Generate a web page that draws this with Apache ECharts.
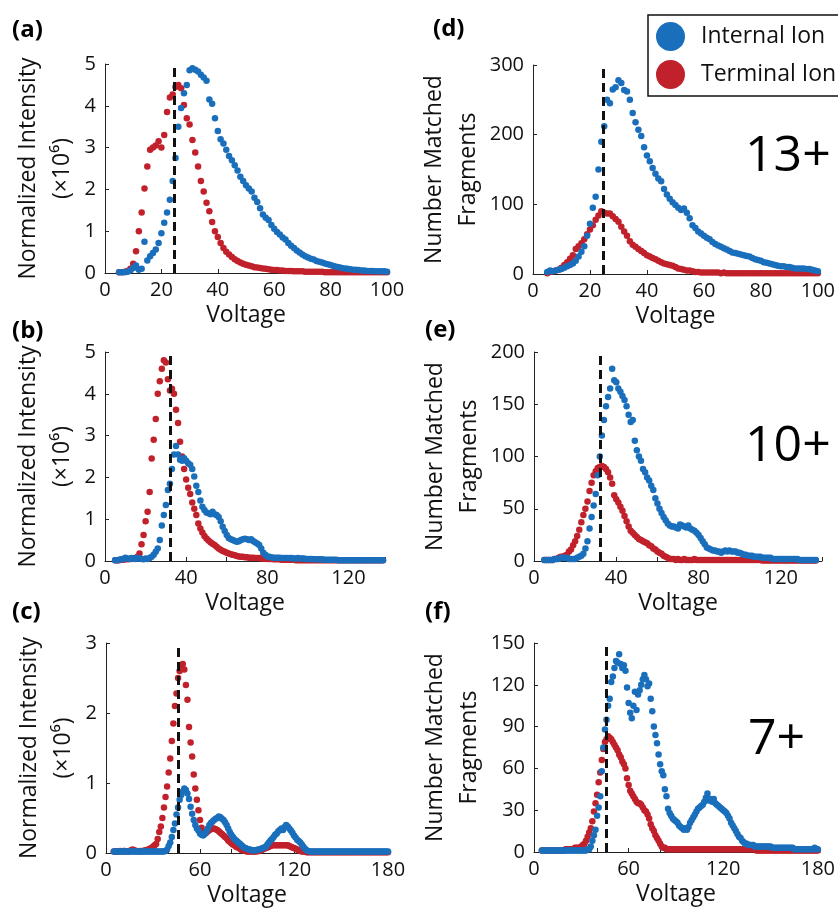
<!DOCTYPE html>
<html><head><meta charset="utf-8">
<script src="https://cdn.jsdelivr.net/npm/echarts@6/dist/echarts.min.js"></script>
<style>html,body{margin:0;padding:0;background:#fff}#chart{width:838px;height:912px}</style>
</head><body><div id="chart"></div>
<script>
// ---------- DATA (voltage grid: first voltage and step, 1 V) ----------
const voltStartA = 5, voltStartB = 5, voltStartC = 5, voltStep = 1;

// (a) Normalized intensity (x10^6), 13+, V = 5..100
const terminalA = [
0.02,0.02,0.03,0.05,0.10,0.22,0.52,1.00,1.45,2.02,
2.55,2.95,3.00,3.05,3.15,3.00,3.30,3.85,4.20,4.27,
4.45,4.50,4.42,4.02,3.70,3.55,3.18,2.88,2.55,2.20,
1.95,1.68,1.48,1.22,1.00,0.86,0.72,0.60,0.51,0.44,
0.38,0.33,0.29,0.25,0.22,0.20,0.18,0.16,0.14,0.13,
0.12,0.11,0.10,0.09,0.08,0.07,0.07,0.06,0.06,0.05,
0.05,0.05,0.04,0.04,0.04,0.04,0.03,0.03,0.03,0.03,
0.03,0.03,0.03,0.02,0.02,0.02,0.02,0.02,0.02,0.02,
0.02,0.02,0.02,0.02,0.02,0.02,0.02,0.02,0.02,0.02,
0.02,0.02,0.02,0.02,0.02,0.02];
const internalA = [
0.02,0.02,0.02,0.03,0.06,0.12,0.18,0.08,0.10,0.75,
0.30,0.40,0.48,0.56,0.72,0.95,1.20,1.45,1.75,2.20,
2.75,3.50,3.95,4.30,4.50,4.85,4.90,4.86,4.82,4.74,
4.68,4.60,4.15,4.05,3.70,3.40,3.20,3.10,2.95,2.80,
2.70,2.58,2.45,2.30,2.20,2.10,2.02,1.95,1.80,1.70,
1.55,1.40,1.32,1.27,1.15,1.06,0.98,0.92,0.85,0.80,
0.72,0.65,0.60,0.54,0.49,0.44,0.40,0.37,0.34,0.32,
0.29,0.27,0.25,0.23,0.21,0.19,0.17,0.15,0.14,0.12,
0.11,0.10,0.09,0.08,0.08,0.07,0.06,0.06,0.05,0.05,
0.05,0.04,0.04,0.04,0.04,0.03];

// (d) Number matched fragments, 13+, V = 5..100
const terminalD = [
1,3,4,5,6,9,13,17,22,27,
36,40,44,50,57,64,70,78,84,90,
88,87,87,83,79,75,68,61,55,47,
42,39,36,33,30,27,25,23,21,19,
17,15,14,13,12,10,8,7,6,5,
5,4,3,3,2,2,2,2,2,2,
2,1,2,1,1,1,1,1,1,1,
1,1,1,1,1,1,1,1,1,1,
1,1,1,1,1,1,1,1,1,1,
1,1,1,1,1,1];
const internalD = [
3,5,4,5,6,7,9,11,13,15,
19,25,32,40,55,72,95,111,150,190,
212,250,245,265,268,278,274,264,262,250,
231,218,207,198,182,170,162,152,144,137,
133,122,114,108,103,99,95,92,94,88,
80,70,66,61,58,55,52,50,46,43,
41,39,37,35,33,31,30,29,28,27,
26,25,23,21,20,19,17,16,15,14,
13,12,11,11,10,10,9,8,8,8,
8,7,7,6,5,4];

// (b) Normalized intensity (x10^6), 10+, V = 5..137
const terminalB = [
0.02,0.02,0.02,0.03,0.03,0.04,0.04,0.05,0.05,0.06,
0.07,0.10,0.18,0.40,0.62,0.95,1.18,1.65,2.45,2.90,
3.40,4.00,4.30,4.60,4.80,4.75,4.35,4.08,4.12,4.00,
3.62,3.30,2.85,2.50,2.20,1.95,1.75,1.60,1.40,1.25,
1.10,0.90,0.78,0.68,0.60,0.54,0.49,0.45,0.41,0.38,
0.34,0.30,0.27,0.24,0.22,0.20,0.18,0.16,0.15,0.14,
0.12,0.11,0.10,0.10,0.09,0.09,0.08,0.08,0.08,0.07,
0.07,0.07,0.06,0.06,0.06,0.05,0.05,0.05,0.04,0.04,
0.04,0.04,0.03,0.03,0.03,0.03,0.03,0.03,0.03,0.02,
0.02,0.02,0.02,0.02,0.02,0.02,0.02,0.02,0.02,0.02,
0.02,0.02,0.02,0.02,0.02,0.02,0.02,0.02,0.02,0.02,
0.02,0.02,0.02,0.02,0.02,0.02,0.02,0.02,0.02,0.02,
0.02,0.02,0.02,0.02,0.02,0.02,0.02,0.02,0.02,0.02,
0.02,0.02,0.02];
const internalB = [
0.02,0.02,0.03,0.04,0.05,0.08,0.06,0.05,0.07,0.06,
0.05,0.08,0.06,0.05,0.04,0.06,0.05,0.07,0.10,0.15,
0.22,0.30,0.50,0.85,1.10,1.34,1.70,1.85,2.20,2.55,
2.75,2.55,2.42,2.40,2.46,2.40,2.34,2.30,2.20,2.02,
1.80,1.65,1.45,1.30,1.22,1.16,1.14,1.12,1.18,1.12,
1.10,1.05,0.95,0.82,0.72,0.62,0.55,0.52,0.50,0.48,
0.46,0.47,0.50,0.52,0.53,0.52,0.50,0.52,0.48,0.45,
0.42,0.38,0.30,0.20,0.15,0.11,0.10,0.09,0.08,0.08,
0.08,0.08,0.07,0.07,0.07,0.07,0.07,0.07,0.06,0.06,
0.07,0.06,0.06,0.06,0.05,0.05,0.05,0.05,0.04,0.04,
0.04,0.04,0.04,0.03,0.03,0.03,0.03,0.03,0.03,0.03,
0.02,0.02,0.02,0.02,0.02,0.02,0.02,0.02,0.02,0.02,
0.02,0.02,0.02,0.02,0.02,0.02,0.02,0.02,0.02,0.02,
0.02,0.02,0.02];

// (e) Number matched fragments, 10+, V = 5..137
const terminalE = [
1,1,1,1,1,2,2,3,4,4,
5,6,9,11,15,19,24,30,37,44,
50,57,67,75,82,86,89,90,91,90,
88,85,80,74,63,59,56,52,48,43,
38,33,29,27,25,23,21,20,19,18,
17,15,14,12,11,9,8,7,5,4,
3,2,2,2,1,2,1,1,2,1,
1,1,1,2,1,1,1,1,1,1,
1,1,1,1,1,1,1,1,1,1,
1,1,1,1,1,1,1,1,1,1,
1,1,1,1,1,1,0.5,0.5,0.5,0.5,
0.5,0.5,0.5,0.5,0.5,0.5,0.5,0.5,0.5,0.5,
0.5,0.5,0.5,0.5,0.5,0.5,0.5,0.5,0.5,0.5,
0.5,0.5,0.5];
const internalE = [
1,1,1,1,1,2,2,2,3,3,
3,3,2,2,2,2,3,4,5,7,
12,19,31,42,53,64,82,100,120,135,
148,157,165,184,173,171,165,162,158,154,
148,140,133,135,115,106,100,96,88,85,
80,77,72,68,60,55,50,46,42,39,
36,34,33,33,32,31,35,34,33,32,
34,31,30,29,27,25,22,19,16,13,
12,11,10,10,9,9,8,9,10,9,
10,9,9,9,8,8,7,6,6,5,
5,5,4,4,4,4,3,3,3,3,
3,2,2,2,2,2,2,2,2,2,
2,2,2,2,1,1,1,1,1,1,
1,1,1];

// (c) Normalized intensity (x10^6), 7+, V = 5..180
const terminalC = [
0.02,0.02,0.02,0.02,0.03,0.02,0.03,0.03,0.02,0.02,
0.03,0.04,0.05,0.04,0.03,0.03,0.02,0.03,0.03,0.03,
0.04,0.04,0.05,0.06,0.07,0.09,0.11,0.13,0.20,0.30,
0.38,0.50,0.65,0.80,0.95,1.15,1.35,1.60,1.85,2.10,
2.28,2.50,2.60,2.66,2.70,2.62,2.40,2.19,1.80,1.58,
1.38,1.12,0.92,0.76,0.61,0.47,0.36,0.30,0.28,0.29,
0.31,0.33,0.34,0.35,0.35,0.34,0.33,0.31,0.29,0.27,
0.25,0.23,0.21,0.18,0.16,0.14,0.12,0.11,0.09,0.08,
0.07,0.05,0.04,0.04,0.03,0.02,0.02,0.02,0.02,0.02,
0.02,0.02,0.03,0.03,0.04,0.05,0.06,0.07,0.08,0.09,
0.10,0.11,0.11,0.11,0.11,0.11,0.11,0.11,0.11,0.11,
0.11,0.11,0.10,0.09,0.08,0.07,0.06,0.05,0.04,0.03,
0.02,0.02,0.02,0.01,0.01,0.01,0.01,0.01,0.01,0.01,
0.01,0.01,0.01,0.01,0.01,0.01,0.01,0.01,0.01,0.01,
0.01,0.01,0.01,0.01,0.01,0.01,0.01,0.01,0.01,0.01,
0.01,0.01,0.01,0.01,0.01,0.01,0.01,0.01,0.01,0.01,
0.01,0.01,0.01,0.01,0.01,0.01,0.01,0.01,0.01,0.01,
0.01,0.01,0.01,0.01,0.01,0.01];
const internalC = [
0.02,0.02,0.02,0.02,0.02,0.02,0.02,0.02,0.02,0.02,
0.02,0.02,0.02,0.02,0.02,0.02,0.02,0.02,0.02,0.02,
0.02,0.02,0.02,0.02,0.02,0.02,0.02,0.02,0.02,0.02,
0.02,0.02,0.02,0.03,0.05,0.10,0.15,0.23,0.33,0.42,
0.55,0.65,0.76,0.83,0.88,0.92,0.90,0.85,0.77,0.66,
0.56,0.47,0.40,0.35,0.32,0.28,0.26,0.25,0.27,0.30,
0.35,0.40,0.43,0.45,0.47,0.49,0.50,0.52,0.51,0.49,
0.47,0.44,0.40,0.35,0.30,0.26,0.23,0.20,0.18,0.16,
0.14,0.12,0.10,0.08,0.07,0.06,0.05,0.05,0.04,0.04,
0.04,0.04,0.05,0.05,0.06,0.07,0.08,0.09,0.12,0.15,
0.18,0.20,0.23,0.26,0.28,0.31,0.33,0.35,0.33,0.37,
0.40,0.38,0.35,0.32,0.29,0.25,0.22,0.19,0.17,0.15,
0.12,0.09,0.06,0.04,0.03,0.02,0.02,0.02,0.02,0.02,
0.02,0.02,0.02,0.02,0.02,0.02,0.02,0.02,0.02,0.02,
0.02,0.02,0.02,0.02,0.02,0.02,0.02,0.02,0.02,0.02,
0.02,0.02,0.02,0.02,0.02,0.02,0.02,0.02,0.02,0.02,
0.02,0.02,0.02,0.02,0.02,0.02,0.02,0.02,0.02,0.02,
0.02,0.02,0.02,0.02,0.02,0.02];

// (f) Number matched fragments, 7+, V = 5..180
const terminalF = [
1,1,1,1,1,1,1,1,1,1,
1,1,1,1,1,2,2,2,2,2,
2,3,3,3,3,4,5,6,8,11,
14,17,22,29,35,41,50,57,66,74,
79,81,83,82,81,79,77,75,73,70,
68,65,63,60,53,48,44,42,40,38,
36,35,35,34,32,30,29,27,24,20,
17,15,12,10,8,6,4,3,3,2,
2,2,2,2,2,2,2,2,2,2,
2,2,2,2,2,2,2,2,2,2,
2,2,2,2,2,2,2,2,2,2,
2,2,2,2,2,2,2,2,2,2,
2,2,2,2,2,2,2,2,2,2,
2,2,2,2,2,2,1,1,1,1,
1,1,1,1,1,1,1,1,1,1,
1,1,1,1,1,1,1,1,1,1,
1,1,1,1,1,1,1,1,1,1,
1,1,1,1,1,1];
const internalF = [
1,1,1,1,1,1,1,1,1,1,
1,1,1,1,1,1,1,1,1,1,
1,1,1,1,1,1,1,1,1,2,
2,4,8,12,16,26,32,40,58,75,
88,95,105,110,122,126,132,137,136,142,
135,132,134,130,118,107,100,96,105,115,
102,113,116,120,124,127,124,119,121,110,
101,90,84,78,70,63,58,55,45,40,
31,28,26,24,23,22,21,19,18,17,
16,17,16,18,21,23,25,27,29,31,
32,33,34,36,39,42,37,38,36,38,
35,34,33,32,31,30,29,28,26,24,
21,19,17,15,13,11,10,8,7,6,
6,5,5,5,5,4,4,4,4,4,
4,4,4,4,4,4,3,3,3,3,
3,3,3,3,3,3,3,3,3,3,
2,2,2,2,2,2,2,2,2,2,
2,2,2,3,2,2];

// axis tick settings and reference voltages (dashed lines)
const xMaxList   = [100, 100, 138, 140, 180, 180];
const xLabelStep = [20, 20, 40, 40, 60, 60];
const yMaxList   = [5, 300, 5, 200, 3, 150];
const yStepList  = [1, 100, 1, 50, 1, 30];
const dashedVoltage = [24.5, 24.5, 32, 32, 46, 46];
const panelLetters = ['(a)', '(d)', '(b)', '(e)', '(c)', '(f)'];
const chargeStates = ['13+', '10+', '7+'];
const seriesNames = ['Internal Ion', 'Terminal Ion'];

// ---------- BUILD ----------
const RED = '#c1212b', BLUE = '#1a6fbc';
const FONT = 'Open Sans';
const panels = [
  {term: terminalA, int: internalA, start: voltStartA, grid: {left:105, top:64, width:282, height:209}, yName: 'Normalized Intensity\n(×10⁶)', gap: 26},
  {term: terminalD, int: internalD, start: voltStartA, grid: {left:533, top:65, width:290, height:209}, yName: 'Number Matched\nFragments', gap: 43},
  {term: terminalB, int: internalB, start: voltStartB, grid: {left:105, top:352, width:280, height:209}, yName: 'Normalized Intensity\n(×10⁶)', gap: 26},
  {term: terminalE, int: internalE, start: voltStartB, grid: {left:534, top:352, width:288, height:209}, yName: 'Number Matched\nFragments', gap: 43},
  {term: terminalC, int: internalC, start: voltStartC, grid: {left:106, top:643, width:282, height:210}, yName: 'Normalized Intensity\n(×10⁶)', gap: 26},
  {term: terminalF, int: internalF, start: voltStartC, grid: {left:534, top:643, width:288, height:209}, yName: 'Number Matched\nFragments', gap: 43}
];

const toPairs = (arr, start) => arr.map((v, i) => [start + i * voltStep, v]);
const axisLineStyle = {lineStyle: {color: '#222', width: 1}};

const grids = [], xAxes = [], yAxes = [], series = [];
panels.forEach((p, i) => {
  grids.push(Object.assign({containLabel: false}, p.grid));
  xAxes.push({
    type: 'value', gridIndex: i, min: 0, max: xMaxList[i], interval: 20,
    axisLine: axisLineStyle, axisTick: {show: true, inside: true, length: 4, lineStyle: {color: '#222'}},
    splitLine: {show: false},
    axisLabel: {fontSize: 20, color: '#111', fontFamily: FONT, margin: 7, showMaxLabel: true,
      formatter: v => (v % xLabelStep[i] === 0 ? String(v) : '')},
    name: 'Voltage', nameLocation: 'middle', nameGap: 31,
    nameTextStyle: {fontSize: 23, color: '#111', fontFamily: FONT}
  });
  yAxes.push({
    type: 'value', gridIndex: i, min: 0, max: yMaxList[i], interval: yStepList[i],
    axisLine: Object.assign({show: true}, axisLineStyle), axisTick: {show: true, inside: true, length: 4, lineStyle: {color: '#222'}},
    splitLine: {show: false},
    axisLabel: {fontSize: 20, color: '#111', fontFamily: FONT, margin: 9},
    name: p.yName, nameLocation: 'middle', nameGap: p.gap, nameRotate: 90,
    nameTextStyle: {fontSize: 23, color: '#111', fontFamily: FONT, lineHeight: 34}
  });
  series.push({
    type: 'scatter', name: seriesNames[1], xAxisIndex: i, yAxisIndex: i,
    data: toPairs(p.term, p.start), symbolSize: 6.5, itemStyle: {color: RED, opacity: 1}, silent: true
  });
  series.push({
    type: 'scatter', name: seriesNames[0], xAxisIndex: i, yAxisIndex: i,
    data: toPairs(p.int, p.start), symbolSize: 6.5, itemStyle: {color: BLUE, opacity: 1}, silent: true,
    markLine: {silent: true, symbol: ['none', 'none'], label: {show: false},
      lineStyle: {color: '#111', width: 3, type: [9, 5], opacity: 1},
      data: [{xAxis: dashedVoltage[i]}]}
  });
});

const letterPos = [[12, 30], [433, 29], [12, 331], [425, 330], [12, 612], [425, 612]];
const graphics = panelLetters.map((t, i) => ({
  type: 'text', x: letterPos[i][0], y: letterPos[i][1],
  style: {text: t, font: 'bold 24px "Open Sans"', fill: '#000', verticalAlign: 'middle'}
}));
const chargePos = [[745, 157], [745, 447], [748, 740]];
chargeStates.forEach((t, i) => graphics.push({
  type: 'text', x: chargePos[i][0], y: chargePos[i][1],
  style: {text: t, font: '50px "Open Sans"', fill: '#000', verticalAlign: 'middle'}
}));

const chart = echarts.init(document.getElementById('chart'), null, {renderer: 'canvas'});
chart.setOption({
  animation: false,
  backgroundColor: '#fff',
  textStyle: {fontFamily: FONT},
  grid: grids, xAxis: xAxes, yAxis: yAxes, series: series,
  legend: {
    data: seriesNames, orient: 'vertical', left: 648, top: 15,
    icon: 'circle', itemWidth: 29, itemHeight: 29, itemGap: 9,
    padding: [7, 60, 7, 8], borderColor: '#111', borderWidth: 1.5,
    selectedMode: false,
    textStyle: {fontSize: 23, color: '#111', fontFamily: FONT, padding: [0, 0, 0, 11]}
  },
  graphic: graphics
});
</script></body></html>
